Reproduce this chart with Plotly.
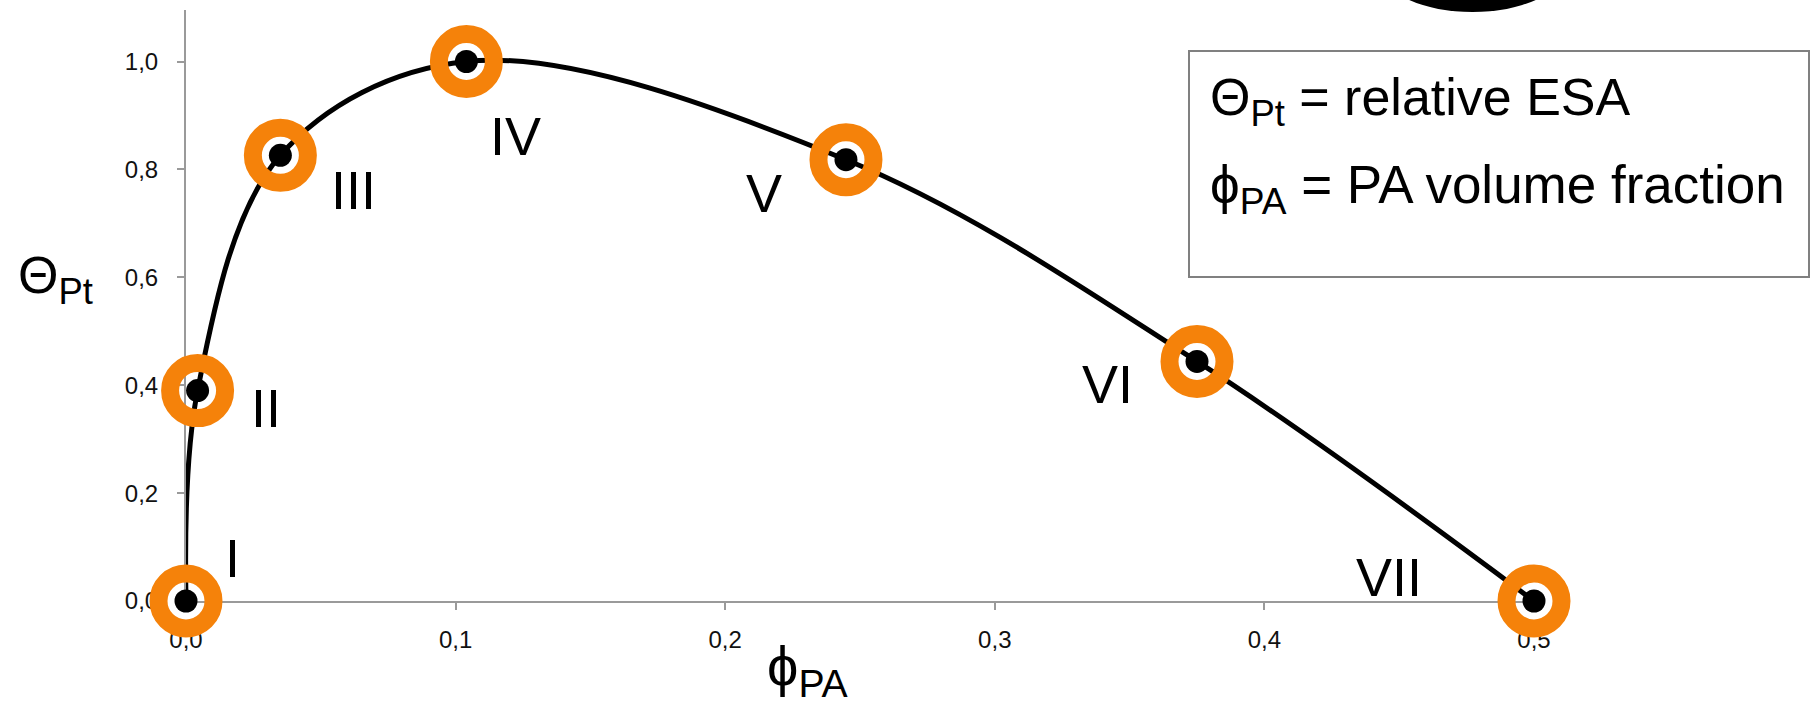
import plotly.graph_objects as go

# ---- data ----
phi_pa = [0.0, 0.0043, 0.035, 0.104, 0.2448, 0.375, 0.5]
theta_pt = [0.0, 0.390, 0.826, 1.0, 0.818, 0.444, 0.0]
point_labels = ["I", "II", "III", "IV", "V", "VI", "VII"]
# label offsets in pixels (dx right, dy up)
label_dx = [46, 68, 73, 49, -82, -90, -145]
label_dy = [43, -17, -35, -74, -33, -23, 24]
x_ticks = [0.0, 0.1, 0.2, 0.3, 0.4, 0.5]
y_ticks = [0.0, 0.2, 0.4, 0.6, 0.8, 1.0]

W, H = 1814, 705
ML, MR, MT, MB = 186, 280, 10, 104
PW, PH = W - ML - MR, H - MT - MB
FONT = "Arial, Liberation Sans, DejaVu Sans, sans-serif"
ORANGE = "#F5820A"
GRAY = "#9a9a9a"


def px(x):
    return (x - ML) / PW


def py(y):
    return (H - MB - y) / PH


fig = go.Figure()
fig.add_trace(go.Scatter(
    x=phi_pa, y=theta_pt, mode="lines",
    line=dict(color="black", width=5, shape="spline", smoothing=1.0),
    cliponaxis=False, hoverinfo="skip", showlegend=False))
fig.add_trace(go.Scatter(
    x=phi_pa, y=theta_pt, mode="markers",
    marker=dict(symbol="circle", size=55, color="rgba(0,0,0,0)",
                line=dict(color=ORANGE, width=18)),
    cliponaxis=False, hoverinfo="skip", showlegend=False))
fig.add_trace(go.Scatter(
    x=phi_pa, y=theta_pt, mode="markers",
    marker=dict(symbol="circle", size=23, color="black", line=dict(width=0)),
    cliponaxis=False, hoverinfo="skip", showlegend=False))

for xv, yv, t, dx, dy in zip(phi_pa, theta_pt, point_labels, label_dx, label_dy):
    fig.add_annotation(x=xv, y=yv, xref="x", yref="y", text=t, showarrow=False,
                       xshift=dx, yshift=dy, font=dict(family=FONT, size=54, color="black"),
                       xanchor="center", yanchor="middle")

PHI = "\u03d5"

# axis titles
fig.add_annotation(xref="paper", yref="paper", x=px(55), y=py(279),
                   text="Θ<sub>Pt</sub>", showarrow=False,
                   font=dict(family=FONT, size=52, color="black"),
                   xanchor="center", yanchor="middle")
fig.add_annotation(xref="paper", yref="paper", x=px(808), y=py(669),
                   text=PHI + "<sub>PA</sub>", showarrow=False,
                   font=dict(family=FONT, size=56, color="black"),
                   xanchor="center", yanchor="middle")

# explanation box
fig.add_shape(type="rect", xref="paper", yref="paper",
              x0=px(1189), x1=px(1809), y0=py(277), y1=py(51),
              line=dict(color="#808080", width=2), fillcolor="white", layer="above")
fig.add_annotation(xref="paper", yref="paper", x=px(1208), y=py(101),
                   text="Θ<sub>Pt</sub> = relative ESA", showarrow=False,
                   font=dict(family=FONT, size=52, color="black"),
                   xanchor="left", yanchor="middle")
fig.add_annotation(xref="paper", yref="paper", x=px(1208), y=py(189),
                   text=PHI + "<sub>PA</sub> = PA volume fraction", showarrow=False,
                   font=dict(family=FONT, size=53, color="black"),
                   xanchor="left", yanchor="middle")

# clipped black ellipse at the top edge (slide decoration)
fig.add_shape(type="circle", xref="paper", yref="paper",
              x0=px(1383), x1=px(1562), y0=py(12), y1=py(-70),
              line=dict(color="black", width=0), fillcolor="black", layer="above")

axis_common = dict(showline=True, linecolor=GRAY, linewidth=2, ticks="outside",
                   ticklen=7, tickwidth=2, tickcolor=GRAY, showgrid=False,
                   zeroline=False, layer="below traces", tickformat=".1f",
                   tickfont=dict(family=FONT, size=24, color="#111"))
fig.update_xaxes(range=[0, 0.5], tickvals=x_ticks, ticklabelstandoff=9, **axis_common)
fig.update_yaxes(range=[0, PH / 539.5], tickvals=y_ticks, ticklabelstandoff=14, **axis_common)

fig.update_layout(width=W, height=H, margin=dict(l=ML, r=MR, t=MT, b=MB),
                  paper_bgcolor="white", plot_bgcolor="white",
                  separators=", ", showlegend=False)

fig.write_html("out.html")
